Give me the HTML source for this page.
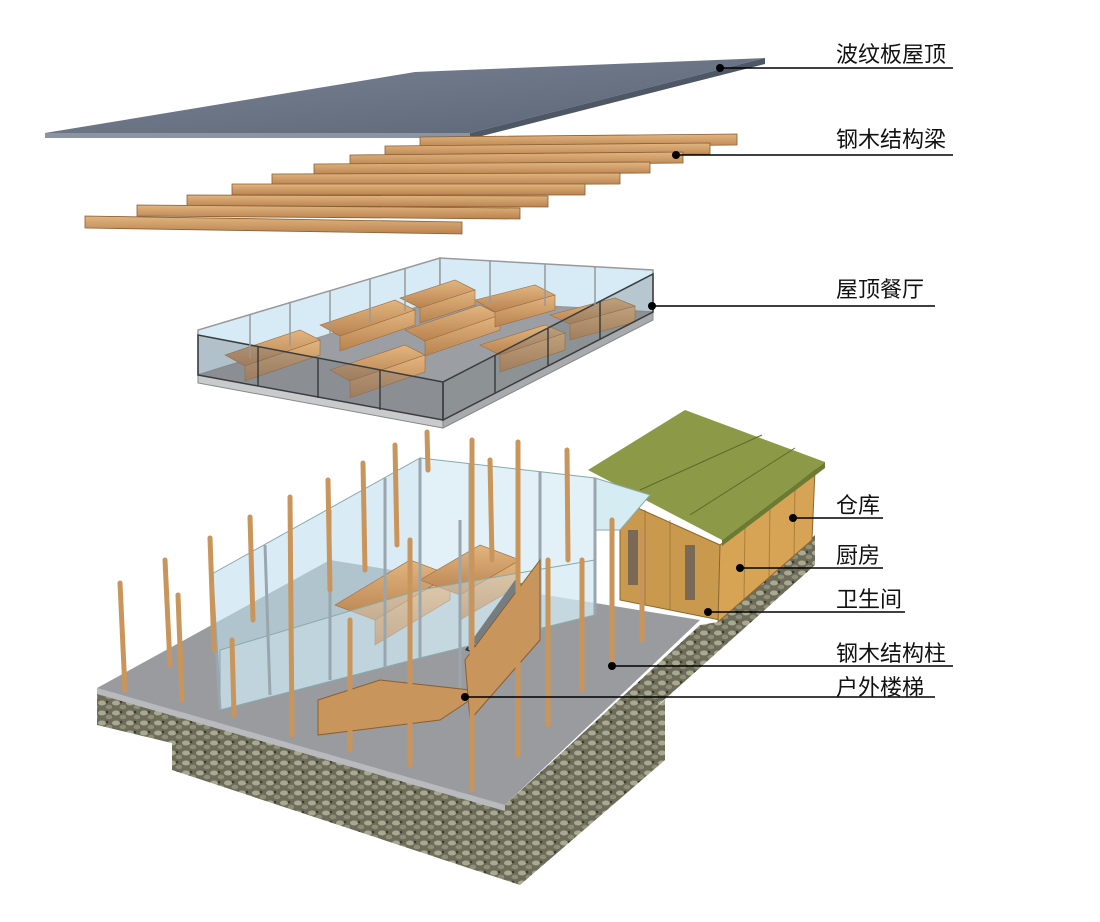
<!DOCTYPE html>
<html><head><meta charset="utf-8"><style>
body{margin:0;background:#fff;}
svg{display:block;}
text{font-family:"Liberation Sans","Noto Sans CJK SC",sans-serif;font-size:22px;fill:#111;}
</style></head><body>
<svg width="1100" height="922" viewBox="0 0 1100 922" xmlns="http://www.w3.org/2000/svg">
<defs>
<linearGradient id="wood" x1="0" y1="0" x2="0" y2="1"><stop offset="0" stop-color="#e2b57f"/><stop offset="1" stop-color="#b98350"/></linearGradient>
<linearGradient id="roof" x1="0" y1="0" x2="1" y2="1"><stop offset="0" stop-color="#7a8494"/><stop offset="1" stop-color="#5c6575"/></linearGradient>
<pattern id="stone" width="14" height="10" patternUnits="userSpaceOnUse"><rect width="14" height="10" fill="#6d6c5a"/><ellipse cx="4" cy="3" rx="4" ry="2.5" fill="#a9a890"/><ellipse cx="11" cy="7" rx="3.5" ry="2.2" fill="#8f8e76"/><circle cx="9" cy="2" r="1.3" fill="#3d3c30"/></pattern>
</defs>

<!-- corrugated roof -->
<polygon points="45,133 415,72 765,58 470,133" fill="url(#roof)"/>
<polygon points="45,133 470,133 470,138 45,138" fill="#8b94a2"/>
<polygon points="470,133 765,58 765,64 470,139" fill="#4e5766"/>

<!-- beams -->
<g stroke="#8a5e33" stroke-width="0.8">
<polygon points="420,137 737,134 737,145 420,148" fill="url(#wood)"/>
<polygon points="385,146 710,143 710,154 385,157" fill="url(#wood)"/>
<polygon points="350,155 683,152 683,163 350,166" fill="url(#wood)"/>
<polygon points="314,164 650,162 650,173 314,175" fill="url(#wood)"/>
<polygon points="272,174 620,173 620,184 272,185" fill="url(#wood)"/>
<polygon points="232,184 585,184 585,195 232,195" fill="url(#wood)"/>
<polygon points="187,195 548,196 548,207 187,206" fill="url(#wood)"/>
<polygon points="137,205 520,208 520,219 137,216" fill="url(#wood)"/>
<polygon points="85,216 462,222 462,234 85,228" fill="url(#wood)"/>
</g>

<!-- rooftop restaurant -->
<polygon points="198,375 440,300 653,312 443,420" fill="#9b9fa3"/>
<polygon points="198,375 443,420 443,428 198,383" fill="#c8cacc" stroke="#888"/>
<polygon points="443,420 653,312 653,320 443,428" fill="#a8aaad" stroke="#888"/>
<polygon points="198,375 198,330 440,258 440,300" fill="#d6ebf5" stroke="#999" stroke-width="1.5"/>
<polygon points="440,300 440,258 653,270 653,312" fill="#d6ebf5" stroke="#999" stroke-width="1.5"/>
<g fill="url(#wood)" stroke="#9a6c40" stroke-width="0.6">
<polygon points="225,355 300,330 320,340 245,366"/>
<polygon points="245,366 320,340 320,355 245,381"/>
<polygon points="320,325 395,300 415,310 340,336"/>
<polygon points="340,336 415,310 415,325 340,351"/>
<polygon points="400,298 455,280 475,290 420,308"/>
<polygon points="420,308 475,290 475,305 420,323"/>
<polygon points="330,370 405,345 425,355 350,381"/>
<polygon points="350,381 425,355 425,372 350,398"/>
<polygon points="405,330 480,305 500,315 425,341"/>
<polygon points="425,341 500,315 500,330 425,356"/>
<polygon points="475,300 535,285 555,295 495,312"/>
<polygon points="495,312 555,295 555,310 495,327"/>
<polygon points="480,345 545,325 565,333 500,355"/>
<polygon points="500,355 565,333 565,350 500,372"/>
<polygon points="550,315 615,298 635,306 570,324"/>
<polygon points="570,324 635,306 635,322 570,340"/>
</g>
<polygon points="198,375 198,335 443,382 443,420" fill="#6e7378" fill-opacity="0.35" stroke="#3a3d40" stroke-width="1.5"/>
<polygon points="443,420 443,382 653,274 653,312" fill="#6e7378" fill-opacity="0.3" stroke="#3a3d40" stroke-width="1.5"/>
<g stroke="#3a3d40" stroke-width="1.5">
<line x1="258" y1="346" x2="258" y2="386"/><line x1="318" y1="358" x2="318" y2="398"/><line x1="380" y1="370" x2="380" y2="410"/>
<line x1="495" y1="355" x2="495" y2="393"/><line x1="548" y1="328" x2="548" y2="366"/><line x1="600" y1="301" x2="600" y2="339"/>
</g>
<g stroke="#999" stroke-width="1.5"><line x1="250" y1="315" x2="250" y2="358"/><line x1="290" y1="303" x2="290" y2="346"/><line x1="330" y1="291" x2="330" y2="334"/><line x1="370" y1="279" x2="370" y2="322"/><line x1="405" y1="268" x2="405" y2="311"/><line x1="490" y1="261" x2="490" y2="303"/><line x1="545" y1="264" x2="545" y2="306"/><line x1="595" y1="267" x2="595" y2="309"/></g>

<!-- foundation -->
<polygon points="172,720 505,830 665,700 665,760 520,885 172,770" fill="url(#stone)"/>
<polygon points="97,688 505,805 700,625 718,622 815,535 815,565 505,842 180,745 97,725" fill="url(#stone)"/>
<polygon points="97,688 330,560 700,620 505,805" fill="#9a9b9f"/>
<polygon points="97,688 505,805 505,811 97,694" fill="#b9babd"/>

<!-- warehouse -->
<polygon points="620,500 720,545 720,620 620,600" fill="#c99a4e" stroke="#8a6630"/>
<polygon points="720,545 815,470 812,540 718,622" fill="#d7a456" stroke="#8a6630"/>
<g stroke="#8a6630" stroke-width="1" opacity="0.6"><line x1="745" y1="525" x2="744" y2="600"/><line x1="770" y1="505" x2="769" y2="580"/><line x1="795" y1="485" x2="794" y2="558"/><line x1="645" y1="510" x2="645" y2="605"/><line x1="670" y1="520" x2="670" y2="610"/></g>
<rect x="628" y="530" width="10" height="55" fill="#7a6a55"/><rect x="685" y="545" width="10" height="55" fill="#7a6a55"/>
<polygon points="588,470 685,410 825,462 722,540" fill="#8c9a48"/>
<line x1="640" y1="490" x2="762" y2="435" stroke="#5d6a2a"/><line x1="690" y1="515" x2="795" y2="448" stroke="#5d6a2a"/>
<polygon points="722,540 825,462 825,468 722,546" fill="#6d7a32"/>

<!-- glass box -->
<polygon points="210,575 420,458 420,658 220,710" fill="#bfe0ee" fill-opacity="0.6" stroke="#8aa"/>
<polygon points="420,458 595,478 595,615 420,658" fill="#cde8f2" fill-opacity="0.6" stroke="#8aa"/>
<polygon points="595,478 650,495 620,530 595,530" fill="#d6ecf3" stroke="#8aa"/>
<g fill="url(#wood)" stroke="#9a6c40" stroke-width="0.6">
<polygon points="335,605 410,560 450,575 375,620"/>
<polygon points="375,620 450,575 450,600 375,645"/>
<polygon points="420,580 480,545 520,560 460,595"/>
<polygon points="460,595 520,560 520,585 460,620"/>
</g>
<polygon points="465,650 515,580 525,585 478,655" fill="#333"/>
<polygon points="220,650 420,590 595,560 595,615 420,658 220,710" fill="#d9edf4" fill-opacity="0.4" stroke="#8aa"/>
<g stroke="#9aa6ad" stroke-width="3">
<line x1="212" y1="575" x2="220" y2="710"/><line x1="265" y1="545" x2="270" y2="695"/><line x1="330" y1="510" x2="330" y2="680"/><line x1="385" y1="478" x2="385" y2="668"/><line x1="420" y1="458" x2="420" y2="658"/><line x1="470" y1="464" x2="470" y2="650"/><line x1="540" y1="472" x2="540" y2="630"/><line x1="595" y1="478" x2="595" y2="615"/><line x1="460" y1="520" x2="460" y2="700"/>
</g>
<polygon points="318,700 380,680 470,690 470,700 440,720 318,735" fill="#c8955c" stroke="#8a6030"/>
<polygon points="465,660 540,560 540,640 470,720" fill="#c8955c" stroke="#8a6030"/>

<!-- columns (vertical) -->
<g stroke="#c9955a" stroke-width="5" stroke-linecap="round">
<line x1="120" y1="583" x2="125" y2="690"/>
<line x1="165" y1="560" x2="170" y2="665"/>
<line x1="178" y1="595" x2="182" y2="700"/>
<line x1="210" y1="538" x2="214" y2="650"/>
<line x1="232" y1="640" x2="234" y2="715"/>
<line x1="250" y1="517" x2="253" y2="620"/>
<line x1="290" y1="497" x2="292" y2="735"/>
<line x1="328" y1="480" x2="330" y2="590"/>
<line x1="350" y1="620" x2="350" y2="750"/>
<line x1="363" y1="463" x2="365" y2="570"/>
<line x1="395" y1="445" x2="397" y2="545"/>
<line x1="410" y1="540" x2="410" y2="765"/>
<line x1="427" y1="432" x2="428" y2="470"/>
<line x1="472" y1="440" x2="472" y2="790"/>
<line x1="490" y1="460" x2="492" y2="560"/>
<line x1="518" y1="442" x2="518" y2="755"/>
<line x1="548" y1="560" x2="548" y2="725"/>
<line x1="567" y1="450" x2="568" y2="560"/>
<line x1="582" y1="560" x2="582" y2="690"/>
<line x1="612" y1="520" x2="612" y2="665"/>
<line x1="642" y1="530" x2="642" y2="640"/>
</g>

<!-- leader lines -->
<g stroke="#000" stroke-width="1.5">
<line x1="720" y1="68" x2="953" y2="68"/>
<line x1="676" y1="155" x2="953" y2="155"/>
<line x1="652" y1="306" x2="935" y2="306"/>
<line x1="793" y1="518" x2="883" y2="518"/>
<line x1="740" y1="568" x2="883" y2="568"/>
<line x1="708" y1="612" x2="905" y2="612"/>
<line x1="612" y1="666" x2="953" y2="666"/>
<line x1="465" y1="697" x2="935" y2="697"/>
</g>
<g fill="#000">
<circle cx="720" cy="68" r="4"/><circle cx="676" cy="155" r="4"/><circle cx="652" cy="306" r="4"/><circle cx="793" cy="518" r="4"/><circle cx="740" cy="568" r="4"/><circle cx="708" cy="612" r="4"/><circle cx="612" cy="666" r="4"/><circle cx="465" cy="697" r="4"/>
</g>
<text x="836" y="62">波纹板屋顶</text>
<text x="836" y="147">钢木结构梁</text>
<text x="836" y="297">屋顶餐厅</text>
<text x="836" y="513">仓库</text>
<text x="836" y="563">厨房</text>
<text x="836" y="607">卫生间</text>
<text x="836" y="661">钢木结构柱</text>
<text x="836" y="695">户外楼梯</text>
</svg>
</body></html>
